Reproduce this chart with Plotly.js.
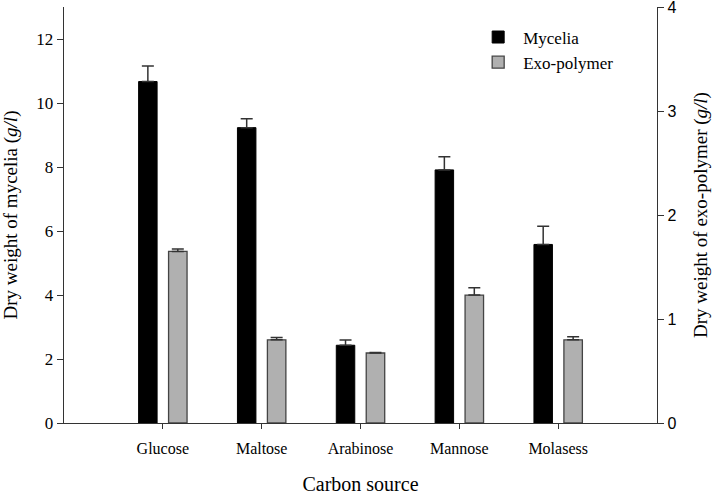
<!DOCTYPE html>
<html>
<head>
<meta charset="utf-8">
<script src="https://cdn.plot.ly/plotly-3.0.1.min.js"></script>
<style>html,body{margin:0;padding:0;background:#fff}#chart{width:719px;height:495px}</style>
</head>
<body>
<div id="chart"></div>
<script>
const categories = ["Glucose", "Maltose", "Arabinose", "Mannose", "Molasess"];
const myceliaValues = [10.67, 9.23, 2.43, 7.91, 5.58];
const myceliaErrors = [0.49, 0.28, 0.16, 0.41, 0.57];
const exoValues = [1.65, 0.80, 0.673, 1.23, 0.80];
const exoErrors = [0.022, 0.023, 0.006, 0.07, 0.03];
const leftTicks = [0, 2, 4, 6, 8, 10, 12];
const rightTicks = [0, 1, 2, 3, 4];

const serif = "Liberation Serif, Times New Roman, serif";
const sans = "Liberation Sans, Arial, sans-serif";

const traces = [
  {
    type: "bar", name: "Mycelia", x: categories, y: myceliaValues,
    width: 0.187, offset: -0.245,
    marker: {color: "#000000", line: {color: "#000000", width: 1}},
    error_y: {type: "data", symmetric: false, array: myceliaErrors, arrayminus: myceliaErrors.map(() => 0),
              color: "#333333", thickness: 1.5, width: 6},
    yaxis: "y"
  },
  {
    type: "bar", name: "Exo-polymer", x: categories, y: exoValues,
    width: 0.187, offset: 0.058,
    marker: {color: "#b0b0b0", line: {color: "#444444", width: 1.3}},
    error_y: {type: "data", symmetric: false, array: exoErrors, arrayminus: exoErrors.map(() => 0),
              color: "#333333", thickness: 1.5, width: 6},
    yaxis: "y2"
  }
];

const layout = {
  width: 719, height: 495,
  margin: {l: 64, r: 62, t: 7, b: 72},
  paper_bgcolor: "#fff", plot_bgcolor: "#fff",
  showlegend: true,
  legend: {x: 0.69, y: 0.97, xanchor: "left", yanchor: "top", bgcolor: "rgba(0,0,0,0)",
           font: {family: serif, size: 17, color: "#000"}, itemwidth: 40, tracegroupgap: 2},
  xaxis: {
    type: "category", range: [-1, 5],
    showline: true, linecolor: "#333", linewidth: 1.3,
    ticks: "outside", ticklen: 5, tickcolor: "#333", tickwidth: 1,
    ticklabelstandoff: 5,
    tickfont: {family: serif, size: 16, color: "#000"},
    showgrid: false, zeroline: false,
    title: {text: "Carbon source", font: {family: serif, size: 20, color: "#000"}, standoff: 32}
  },
  yaxis: {
    range: [0, 13], tickvals: leftTicks, ticktext: leftTicks.map(String),
    showline: true, linecolor: "#333", linewidth: 1.3,
    ticks: "outside", ticklen: 6, tickcolor: "#333", tickwidth: 1,
    tickfont: {family: serif, size: 17, color: "#000"},
    showgrid: false, zeroline: false,
    title: {text: "Dry weight of mycelia (<i>g/l</i>)", font: {family: serif, size: 19, color: "#000"}, standoff: 16}
  },
  yaxis2: {
    range: [0, 4], tickvals: rightTicks, ticktext: rightTicks.map(String),
    overlaying: "y", side: "right",
    ticklabeloverflow: "allow",
    showline: true, linecolor: "#333", linewidth: 1.3,
    ticks: "outside", ticklen: 6, tickcolor: "#333", tickwidth: 1,
    tickfont: {family: sans, size: 16, color: "#000"},
    showgrid: false, zeroline: false,
    title: {text: "Dry weight of exo-polymer (<i>g/l</i>)", font: {family: serif, size: 19, color: "#000"}, standoff: 18}
  }
};

Plotly.newPlot("chart", traces, layout, {displayModeBar: false, staticPlot: true});
</script>
</body>
</html>
